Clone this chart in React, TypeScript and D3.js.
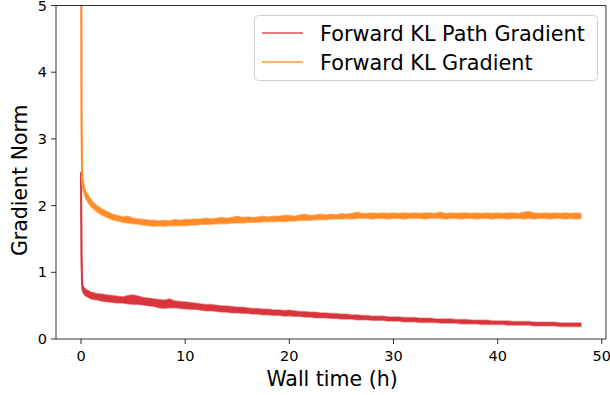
import React from "react";
import * as d3 from "d3";

// Wall-clock time in hours for each logged step
const times = [0, 0.05, 0.1, 0.2, 0.35, 0.5, 0.75, 1, 1.5, 2, 2.5, 3, 3.5, 4, 4.5, 5, 5.5, 6, 6.5, 7, 7.5, 8, 8.5, 9, 9.5, 10, 10.5, 11, 11.5, 12, 12.5, 13, 13.5, 14, 14.5, 15, 15.5, 16, 16.5, 17, 17.5, 18, 18.5, 19, 19.5, 20, 20.5, 21, 21.5, 22, 22.5, 23, 23.5, 24, 24.5, 25, 25.5, 26, 26.5, 27, 27.5, 28, 28.5, 29, 29.5, 30, 30.5, 31, 31.5, 32, 32.5, 33, 33.5, 34, 34.5, 35, 35.5, 36, 36.5, 37, 37.5, 38, 38.5, 39, 39.5, 40, 40.5, 41, 41.5, 42, 42.5, 43, 43.5, 44, 44.5, 45, 45.5, 46, 46.5, 47, 47.5, 48];

// Forward KL Gradient: lower / upper envelope across runs
const klGradLow = [8, 3.2, 2.36, 2.24, 2.15, 2.09, 2.03, 1.98, 1.91, 1.86, 1.82, 1.79, 1.77, 1.75, 1.74, 1.73, 1.72, 1.71, 1.7, 1.69, 1.7, 1.69, 1.7, 1.7, 1.7, 1.7, 1.71, 1.71, 1.72, 1.72, 1.72, 1.73, 1.73, 1.73, 1.74, 1.74, 1.74, 1.75, 1.75, 1.75, 1.76, 1.76, 1.76, 1.77, 1.76, 1.77, 1.77, 1.78, 1.78, 1.78, 1.79, 1.79, 1.79, 1.8, 1.8, 1.8, 1.81, 1.8, 1.81, 1.81, 1.81, 1.8, 1.81, 1.81, 1.8, 1.81, 1.81, 1.8, 1.81, 1.81, 1.81, 1.8, 1.81, 1.81, 1.81, 1.8, 1.81, 1.81, 1.8, 1.81, 1.81, 1.8, 1.81, 1.81, 1.8, 1.81, 1.81, 1.8, 1.81, 1.81, 1.8, 1.81, 1.8, 1.81, 1.81, 1.8, 1.81, 1.81, 1.8, 1.81, 1.8, 1.81];
const klGradHigh = [8, 3.6, 2.52, 2.36, 2.27, 2.2, 2.14, 2.08, 2.0, 1.95, 1.91, 1.87, 1.85, 1.83, 1.84, 1.81, 1.8, 1.79, 1.78, 1.78, 1.77, 1.78, 1.77, 1.79, 1.78, 1.79, 1.79, 1.8, 1.8, 1.81, 1.8, 1.81, 1.82, 1.81, 1.82, 1.84, 1.82, 1.83, 1.82, 1.83, 1.84, 1.83, 1.84, 1.84, 1.85, 1.85, 1.84, 1.86, 1.87, 1.85, 1.86, 1.87, 1.86, 1.87, 1.86, 1.88, 1.87, 1.88, 1.9, 1.88, 1.88, 1.89, 1.88, 1.89, 1.88, 1.89, 1.88, 1.89, 1.88, 1.89, 1.88, 1.89, 1.89, 1.88, 1.9, 1.88, 1.89, 1.88, 1.89, 1.89, 1.88, 1.89, 1.88, 1.89, 1.88, 1.89, 1.88, 1.89, 1.89, 1.88, 1.9, 1.91, 1.89, 1.88, 1.89, 1.88, 1.89, 1.88, 1.89, 1.88, 1.89, 1.88];

// Forward KL Path Gradient: lower / upper envelope across runs
const klPathLow = [2.5, 1.2, 0.76, 0.69, 0.66, 0.64, 0.62, 0.6, 0.59, 0.57, 0.56, 0.55, 0.54, 0.54, 0.53, 0.52, 0.52, 0.51, 0.5, 0.49, 0.47, 0.46, 0.47, 0.47, 0.46, 0.455, 0.445, 0.445, 0.435, 0.425, 0.425, 0.415, 0.405, 0.405, 0.395, 0.395, 0.385, 0.385, 0.375, 0.375, 0.365, 0.365, 0.355, 0.355, 0.345, 0.35, 0.34, 0.34, 0.33, 0.33, 0.32, 0.32, 0.32, 0.31, 0.31, 0.3, 0.3, 0.3, 0.29, 0.29, 0.29, 0.28, 0.28, 0.28, 0.27, 0.27, 0.27, 0.26, 0.26, 0.26, 0.25, 0.25, 0.25, 0.25, 0.24, 0.24, 0.24, 0.24, 0.23, 0.23, 0.23, 0.23, 0.22, 0.22, 0.22, 0.22, 0.22, 0.21, 0.21, 0.21, 0.21, 0.21, 0.2, 0.2, 0.2, 0.2, 0.2, 0.19, 0.19, 0.19, 0.19, 0.19];
const klPathHigh = [2.5, 1.3, 0.86, 0.79, 0.76, 0.74, 0.72, 0.7, 0.68, 0.67, 0.66, 0.65, 0.64, 0.63, 0.65, 0.66, 0.64, 0.62, 0.61, 0.6, 0.59, 0.58, 0.6, 0.57, 0.56, 0.555, 0.545, 0.535, 0.525, 0.515, 0.515, 0.505, 0.495, 0.495, 0.485, 0.475, 0.475, 0.465, 0.455, 0.455, 0.445, 0.445, 0.435, 0.435, 0.425, 0.43, 0.42, 0.41, 0.41, 0.4, 0.4, 0.39, 0.39, 0.38, 0.38, 0.37, 0.37, 0.36, 0.36, 0.35, 0.35, 0.34, 0.34, 0.34, 0.33, 0.33, 0.33, 0.32, 0.32, 0.32, 0.31, 0.31, 0.31, 0.3, 0.3, 0.3, 0.3, 0.29, 0.29, 0.29, 0.28, 0.28, 0.28, 0.28, 0.27, 0.27, 0.27, 0.27, 0.26, 0.26, 0.26, 0.26, 0.25, 0.25, 0.25, 0.25, 0.25, 0.24, 0.24, 0.24, 0.24, 0.24];

const xTicks = [0, 10, 20, 30, 40, 50];
const yTicks = [0, 1, 2, 3, 4, 5];

const seriesNames = ["Forward KL Path Gradient", "Forward KL Gradient"];

const W = 610;
const H = 395;
const M = { left: 56, right: 606, top: 5.5, bottom: 339 };
const FONT = "DejaVu Sans, sans-serif";

export default function App() {
  const x = d3.scaleLinear().domain([-2.4, 50.4]).range([M.left, M.right]);
  const y = d3.scaleLinear().domain([0, 5]).range([M.bottom, M.top]);

  const band = (lo: number[], hi: number[]) =>
    d3
      .area<number>()
      .x((_, i) => x(times[i]))
      .y0((_, i) => y(lo[i]))
      .y1((_, i) => y(hi[i]))(times) || "";
  const mid = (lo: number[], hi: number[]) =>
    d3
      .line<number>()
      .x((_, i) => x(times[i]))
      .y((_, i) => y((lo[i] + hi[i]) / 2))(times) || "";

  const series = [
    { lo: klPathLow, hi: klPathHigh, fill: "#d8363c", edge: "#e8787b", legend: "#e67d7e" },
    { lo: klGradLow, hi: klGradHigh, fill: "#ff8c2a", edge: "#ffb06a", legend: "#ffb26e" },
  ];

  return (
    <svg width={W} height={H} style={{ position: "absolute", left: 0, top: 0 }} fontFamily={FONT}>
      <defs>
        <clipPath id="plot">
          <rect x={M.left} y={M.top} width={M.right - M.left} height={M.bottom - M.top} />
        </clipPath>
      </defs>
      <rect width={W} height={H} fill="#fff" />

      <g clipPath="url(#plot)">
        {series.map((s, k) => (
          <g key={k}>
            <path d={band(s.lo, s.hi)} fill={s.edge} stroke={s.edge} strokeWidth={1.6} strokeOpacity={0.8} />
            <path d={band(s.lo, s.hi)} fill={s.fill} />
            <path d={mid(s.lo, s.hi)} fill="none" stroke={s.fill} strokeWidth={2} />
          </g>
        ))}
      </g>

      {/* spines */}
      <g stroke="#000" strokeWidth={0.8} fill="none">
        <line x1={M.left} x2={M.left} y1={M.top} y2={M.bottom} />
        <line x1={M.right} x2={M.right} y1={M.top} y2={M.bottom} />
        <line x1={M.left} x2={M.right} y1={M.top} y2={M.top} />
        <line x1={M.left} x2={M.right} y1={M.bottom} y2={M.bottom} />
      </g>

      {/* x axis */}
      {xTicks.map((t) => (
        <g key={t} transform={`translate(${x(t)},${M.bottom})`}>
          <line y2={5} stroke="#000" strokeWidth={0.8} />
          <text y={22} textAnchor="middle" fontSize={14.5} fill="#000">
            {t}
          </text>
        </g>
      ))}
      {/* y axis */}
      {yTicks.map((t) => (
        <g key={t} transform={`translate(${M.left},${y(t)})`}>
          <line x2={-5} stroke="#000" strokeWidth={0.8} />
          <text x={-9} dy="0.35em" textAnchor="end" fontSize={14.5} fill="#000">
            {t}
          </text>
        </g>
      ))}

      <text x={(M.left + M.right) / 2 + 1} y={386} textAnchor="middle" fontSize={20.5} fill="#000">
        Wall time (h)
      </text>
      <text
        transform={`translate(27,${(M.top + M.bottom) / 2 + 8}) rotate(-90)`}
        textAnchor="middle"
        fontSize={20.5}
        fill="#000"
      >
        Gradient Norm
      </text>

      {/* legend */}
      <g>
        <rect x={254.5} y={15.5} width={343} height={65} rx={4} fill="#fff" fillOpacity={0.8} stroke="#d0d0d0" />
        {seriesNames.map((name, i) => (
          <g key={name} transform={`translate(262,${33 + i * 29})`}>
            <line x1={0} x2={41} stroke={series[i].legend} strokeWidth={2} />
            <text x={58} dy="0.36em" fontSize={20.8} fill="#000">
              {name}
            </text>
          </g>
        ))}
      </g>
    </svg>
  );
}
